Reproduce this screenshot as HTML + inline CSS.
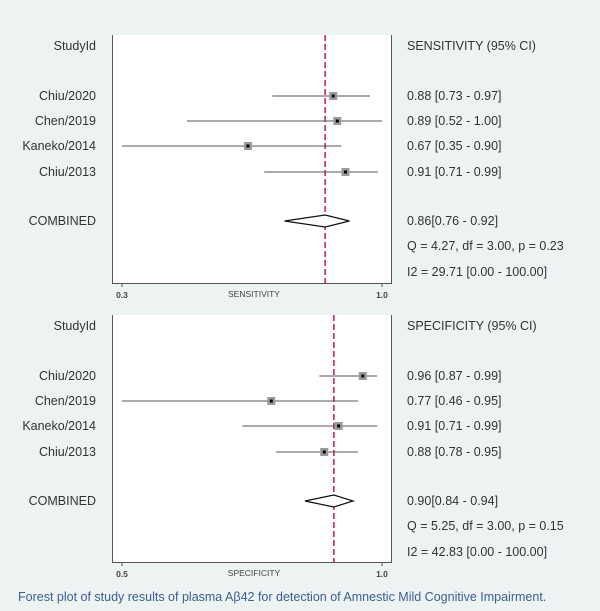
<!DOCTYPE html>
<html><head><meta charset="utf-8"><style>
body{margin:0;background:#edf2f3;}
svg{display:block;font-family:"Liberation Sans",sans-serif;}
</style></head><body>
<svg id="c" width="600" height="611">
<rect x="0" y="0" width="600" height="611" fill="#edf2f3"/>
<text x="18" y="601" font-size="12.5" fill="#3d5f8f">Forest plot of study results of plasma Aβ42 for detection of Amnestic Mild Cognitive Impairment.</text>
</svg>
<script>
const studies = ["Chiu/2020","Chen/2019","Kaneko/2014","Chiu/2013"];
const sensEst = [0.88,0.89,0.67,0.91];
const sensLo = [0.73,0.52,0.35,0.71];
const sensHi = [0.97,1.00,0.90,0.99];
const sensPooled = [0.86,0.76,0.92];
const sensStats = ["Q =  4.27, df = 3.00, p =  0.23","I2 = 29.71 [0.00 - 100.00]"];
const specEst = [0.96,0.77,0.91,0.88];
const specLo = [0.87,0.46,0.71,0.78];
const specHi = [0.99,0.95,0.99,0.95];
const specPooled = [0.90,0.84,0.94];
const specStats = ["Q =  5.25, df = 3.00, p =  0.15","I2 = 42.83 [0.00 - 100.00]"];
const sensTicks = ["0.3","1.0"];
const specTicks = ["0.5","1.0"];

const svg=document.getElementById('c');
const NS='http://www.w3.org/2000/svg';
function mk(tag,attrs,parent){const e=document.createElementNS(NS,tag);for(const k in attrs)e.setAttribute(k,attrs[k]);(parent||svg).appendChild(e);return e;}
function txt(s,x,y,attrs,name){const t=mk('text',Object.assign({x:x,y:y,'font-size':12.5,fill:'#333'},attrs||{}));t.textContent=s;


return t;}

function panel(top,bottom,lo,label,header,est,l,h,pooled,stats,ticks,key){
  const g=mk('g',{});
  
  
  const X0=122,X1=382;
  const sx=v=>X0+(Math.max(lo,Math.min(1,v))-lo)/(1-lo)*(X1-X0);
  const bg=mk('rect',{x:112,y:top,width:280,height:bottom-top,fill:'#fff'},g);
  
  
  mk('line',{x1:112.5,y1:top,x2:112.5,y2:bottom,stroke:'#555','stroke-width':1},g);
  mk('line',{x1:391.5,y1:top,x2:391.5,y2:bottom,stroke:'#555','stroke-width':1},g);
  const ax=mk('line',{x1:112,y1:bottom+0.5,x2:392,y2:bottom+0.5,stroke:'#555','stroke-width':1},g);
  
  
  mk('line',{x1:X0,y1:bottom,x2:X0,y2:bottom+4,stroke:'#555'},g);
  mk('line',{x1:X1,y1:bottom,x2:X1,y2:bottom+4,stroke:'#555'},g);
  txt(ticks[0],X0,bottom+15,{'font-size':8.5,'text-anchor':'middle','font-weight':'bold',fill:'#444'},key+'-tick-min');
  txt(ticks[1],X1,bottom+15,{'font-size':8.5,'text-anchor':'middle','font-weight':'bold',fill:'#444'},key+'-tick-max');
  txt(label,254,bottom+14,{'font-size':8.5,'text-anchor':'middle',fill:'#444'},key+'-x-axis-title');
  const px=sx(pooled[0]);
  const dl=mk('line',{x1:px,y1:top,x2:px,y2:bottom,stroke:'#c8285a','stroke-width':1.6,'stroke-dasharray':'6,3'},g);
  
  
  txt('StudyId',96,top+15,{'text-anchor':'end'},key+'-studyid-header');
  txt(header,407,top+15,{},key+'-ci-header');
  const rows=[top+61,top+86,top+111,top+137];
  est.forEach((v,i)=>{
    const y=rows[i];
    txt(studies[i],96,y+4,{'text-anchor':'end'},key+'-study-label');
    const ci=mk('line',{x1:sx(l[i]),y1:y,x2:sx(h[i]),y2:y,stroke:'#555','stroke-width':1},g);
    
    
    const sq=mk('rect',{x:sx(v)-4,y:y-4,width:8,height:8,fill:'#9a9a9a'},g);
    
    
    mk('rect',{x:sx(v)-1.5,y:y-1.5,width:3,height:3,fill:'#000'},g);
    txt(v.toFixed(2)+' ['+l[i].toFixed(2)+' - '+h[i].toFixed(2)+']',407,y+4,{},key+'-study-value');
  });
  const cy=top+186;
  txt('COMBINED',96,cy+4,{'text-anchor':'end'},key+'-combined-label');
  const d=mk('polygon',{points:`${sx(pooled[1])},${cy} ${px},${cy-6} ${sx(pooled[2])},${cy} ${px},${cy+6}`,fill:'#fff',stroke:'#111','stroke-width':1.2},g);
  
  
  txt(' '+pooled[0].toFixed(2)+'['+pooled[1].toFixed(2)+' - '+pooled[2].toFixed(2)+']',407,cy+4,{},key+'-combined-value');
  txt(stats[0],407,cy+29,{},key+'-q-stat');
  txt(stats[1],407,cy+55,{},key+'-i2-stat');
}
panel(35,283,0.36,'SENSITIVITY','SENSITIVITY (95% CI)',sensEst,sensLo,sensHi,sensPooled,sensStats,sensTicks,'sensitivity');
panel(315,562,0.46,'SPECIFICITY','SPECIFICITY (95% CI)',specEst,specLo,specHi,specPooled,specStats,specTicks,'specificity');
</script>
</body></html>
